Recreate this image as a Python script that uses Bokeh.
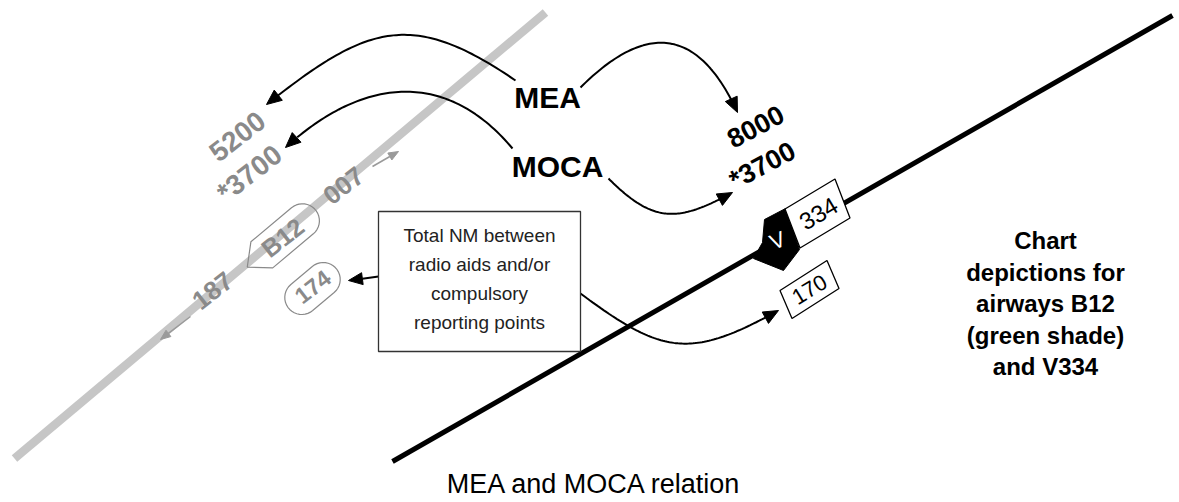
import numpy as np
from bokeh.plotting import figure
from bokeh.models import Range1d, Label
from bokeh.embed import file_html
from bokeh.resources import INLINE

# ---------------- data (reference pixel geometry) ----------------
W, H = 1179, 502
SANS = "Liberation Sans"
GRAY_TXT = "#8a8a8a"
BAND = "#c6c6c6"

band_x = [14, 545]
band_y = [458, 12]
v334_x = [392, 1172]
v334_y = [461, 15]

# cubic arrows: start, c1, c2, tip
arrow_sx = [515, 512, 580, 608, 580]
arrow_sy = [80, 148, 87, 178, 293]
arrow_c1x = [410, 445, 646, 653, 662]
arrow_c1y = [8, 68, 21, 223, 354]
arrow_c2x = [366, 362, 698, 677, 689]
arrow_c2y = [25, 77, 27, 222, 359]
arrow_ex = [266, 285, 737, 732, 778]
arrow_ey = [104, 147, 112, 192, 310]

# straight arrow box -> 174
str_x = [378, 348]
str_y = [276, 280]

# small gray arrows on the B12 band
garrow_x0 = [372, 190]
garrow_y0 = [166, 316]
garrow_x1 = [398, 160]
garrow_y1 = [151, 339]

# note box
box_l, box_r, box_t, box_b = 378, 580, 211, 351
box_lines = ["Total NM between", "radio aids and/or", "compulsory", "reporting points"]
box_line_y = [235, 264, 293, 322]

# gray B12 labels
gray_texts = ["5200", "*3700", "007", "187", "B12", "174"]
gray_tx = [237, 249, 343, 212, 282, 312]
gray_ty = [136, 173, 185, 290, 237, 286]
gray_size = ["28px", "28px", "26px", "26px", "25px", "23px"]

# black V334 labels
blk_texts = ["8000", "*3700"]
blk_tx = [755, 762]
blk_ty = [126, 165]

# V334 shield / boxes
shield_x = [764, 785, 799, 783, 753, 762]
shield_y = [219, 208, 249, 270, 258, 242]
box334_c = (817, 213); box334_u = (25, -15); box334_v = (7.5, 19.5)
box170_c = (809, 289); box170_u = (23.5, -15); box170_v = (6, 14)

right_lines = ["Chart", "depictions for", "airways B12", "(green shade)", "and V334"]
right_x = 1045
right_y = [240, 271.5, 303, 334.5, 366]

title_text = "MEA and MOCA relation"

# ---------------- figure ----------------
p = figure(width=W, height=H, x_range=Range1d(0, W), y_range=Range1d(H, 0),
           output_backend="svg", toolbar_location=None, min_border=0,
           x_axis_type=None, y_axis_type=None)
p.grid.visible = False
p.outline_line_color = None
p.background_fill_color = "white"


def head(tx, ty, dx, dy, L, hw):
    n = np.hypot(dx, dy)
    dx, dy = dx / n, dy / n
    bx, by = tx - L * dx, ty - L * dy
    nx, ny = -dy, dx
    return [tx, bx + hw * nx, bx - hw * nx], [ty, by + hw * ny, by - hw * ny], (bx, by)


def local_shape(cx, cy, ang_deg, pts):
    a = np.deg2rad(ang_deg)
    ux, uy = np.cos(a), -np.sin(a)
    vx, vy = np.sin(a), np.cos(a)
    xs = [cx + u * ux + v * vx for u, v in pts]
    ys = [cy + u * uy + v * vy for u, v in pts]
    return xs, ys


# B12 band
p.line(band_x, band_y, line_width=8.5, line_color=BAND)

# small gray arrows on band
for x0, y0, x1, y1 in zip(garrow_x0, garrow_y0, garrow_x1, garrow_y1):
    hx, hy, (bx, by) = head(x1, y1, x1 - x0, y1 - y0, 10, 4)
    p.line([x0, bx], [y0, by], line_width=1.5, line_color="#9a9a9a")
    p.patch(hx, hy, fill_color="#9a9a9a", line_color="#9a9a9a")

# B12 shape (pointed left, rounded right)
th = np.linspace(-np.pi / 2, np.pi / 2, 20)
b12_pts = [(-46, 0), (-27, -17)] + [(26 + 17 * np.cos(t), 17 * np.sin(t)) for t in th] + [(-27, 17)]
bx_, by_ = local_shape(gray_tx[4], gray_ty[4], 40, b12_pts)
p.patch(bx_, by_, fill_alpha=0, line_color="#8a8a8a", line_width=1.2)

# 174 stadium
th2 = np.linspace(-np.pi / 2, np.pi / 2, 20)
st_pts = [(14 + 17 * np.cos(t), 17 * np.sin(t)) for t in th2] + \
         [(-14 - 17 * np.cos(t), -17 * np.sin(t)) for t in th2]
sx_, sy_ = local_shape(gray_tx[5], gray_ty[5] + 2, 40, st_pts)
p.patch(sx_, sy_, fill_color="white", line_color="#8a8a8a", line_width=1.2)

# V334 airway
p.line(v334_x, v334_y, line_width=5, line_color="black")

# shield and boxes
p.patch(shield_x, shield_y, fill_color="black", line_color="black")
for (cx, cy), (ux, uy), (vx, vy) in [(box334_c, box334_u, box334_v), (box170_c, box170_u, box170_v)]:
    xs = [cx - ux - vx, cx + ux - vx, cx + ux + vx, cx - ux + vx]
    ys = [cy - uy - vy, cy + uy - vy, cy + uy + vy, cy - uy + vy]
    p.patch(xs, ys, fill_color="white", line_color="black", line_width=1.3)

# curved arrows
t = np.linspace(0, 1, 80)
for sx, sy, c1x, c1y, c2x, c2y, ex, ey in zip(arrow_sx, arrow_sy, arrow_c1x, arrow_c1y,
                                             arrow_c2x, arrow_c2y, arrow_ex, arrow_ey):
    hx, hy, (bx, by) = head(ex, ey, ex - c2x, ey - c2y, 15, 6.5)
    x = (1 - t) ** 3 * sx + 3 * (1 - t) ** 2 * t * c1x + 3 * (1 - t) * t ** 2 * c2x + t ** 3 * ex
    y = (1 - t) ** 3 * sy + 3 * (1 - t) ** 2 * t * c1y + 3 * (1 - t) * t ** 2 * c2y + t ** 3 * ey
    mask = np.hypot(x - ex, y - ey) >= 13
    p.line(x[mask], y[mask], line_width=2, line_color="black")
    p.patch(hx, hy, fill_color="black", line_color="black")

# straight arrow
hx, hy, (bx, by) = head(str_x[1], str_y[1], str_x[1] - str_x[0], str_y[1] - str_y[0], 14, 6)
p.line([str_x[0], bx], [str_y[0], by], line_width=2, line_color="black")
p.patch(hx, hy, fill_color="black", line_color="black")

# note box
p.quad(left=box_l, right=box_r, top=box_t, bottom=box_b, fill_color="white",
       line_color="#333333", line_width=1.3)
for s, yy in zip(box_lines, box_line_y):
    p.add_layout(Label(x=(box_l + box_r) / 2, y=yy, text=s, text_align="center",
                       text_baseline="middle", text_font=SANS, text_font_size="19px",
                       text_color="#222222"))

# texts
def lab(x, y, s, size, color="black", bold=True, angle=0.0, font=SANS, baseline="middle"):
    p.add_layout(Label(x=x, y=y, text=s, text_align="center", text_baseline=baseline,
                       text_font=font, text_font_size=size,
                       text_font_style="bold" if bold else "normal",
                       text_color=color, angle=np.deg2rad(angle)))

lab(547, 97, "MEA", "30px")
lab(557, 166, "MOCA", "30px")
for s, x, y, sz in zip(gray_texts, gray_tx, gray_ty, gray_size):
    lab(x, y, s, sz, color=GRAY_TXT, angle=38)
for s, x, y in zip(blk_texts, blk_tx, blk_ty):
    lab(x, y, s, "27px", angle=28)
lab(777, 240, "V", "22px", color="white", bold=False, angle=22)
lab(818, 213, "334", "24px", bold=False, angle=31)
lab(809, 289, "170", "22px", bold=False, angle=31)
for s, yy in zip(right_lines, right_y):
    lab(right_x, yy, s, "24px")
lab(594, 483, title_text, "27px", bold=False)

open("out.html", "w").write(file_html(p, INLINE))
